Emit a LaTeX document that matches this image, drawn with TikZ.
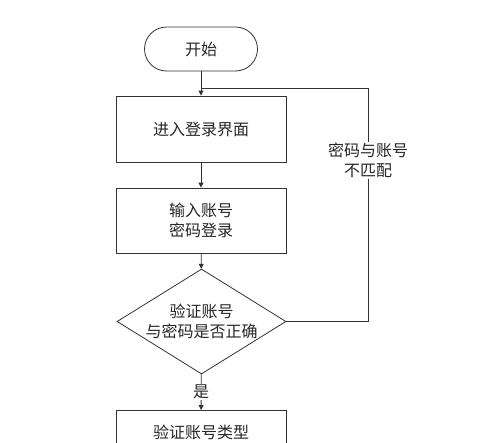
\documentclass[tikz,border=0pt]{standalone}
\usepackage{fontspec}
\newfontfamily\cjk{Noto Sans CJK SC}
\usetikzlibrary{shapes.geometric,arrows.meta}
\begin{document}
\begin{tikzpicture}[x=1pt,y=-1pt,
  every node/.style={font=\cjk\fontsize{16}{20}\selectfont, text=black!85, align=center},
  line/.style={draw=black!80, line width=0.8pt},
  arr/.style={line, -{Triangle[length=5pt,width=5pt]}},
  procbox/.style={line, rectangle, minimum width=170pt, inner sep=0pt},
  term/.style={line, rectangle, rounded corners=22pt, minimum width=113pt, minimum height=44pt},
  decide/.style={line, diamond, minimum width=169pt, minimum height=105pt, inner sep=0pt, aspect=1.6},
  lbl/.style={fill=white, inner sep=1pt}]
\useasboundingbox (0,0) rectangle (500,442);
\fill[white] (0,0) rectangle (500,442);
\clip (0,0) rectangle (500,442);
\node[term] (start) at (201,49) {开始};
\node[procbox, minimum height=66pt] (login) at (201,129) {进入登录界面};
\node[procbox, minimum height=65pt] (input) at (201,220.5) {输入账号\\密码登录};
\node[decide] (check) at (201.5,321.5) {};
\node at (201.5,321) {验证账号\\与密码是否正确};
\node[procbox, minimum height=44pt, anchor=north] (type) at (201,410) {验证账号类型};
\coordinate (merge) at (201,88);
\coordinate (rc) at (368,321.5);
\coordinate (rt) at (368,88);
\draw[arr] (start) -- (login);
\draw[arr] (login) -- (input);
\draw[arr] (input) -- (check);
\draw[arr] (check) -- node[lbl, pos=0.5] {是} (type);
\draw[line] (check.east) -- (rc) -- node[lbl, pos=0.69] {密码与账号\\不匹配} (rt) -- (merge);
\end{tikzpicture}
\end{document}
